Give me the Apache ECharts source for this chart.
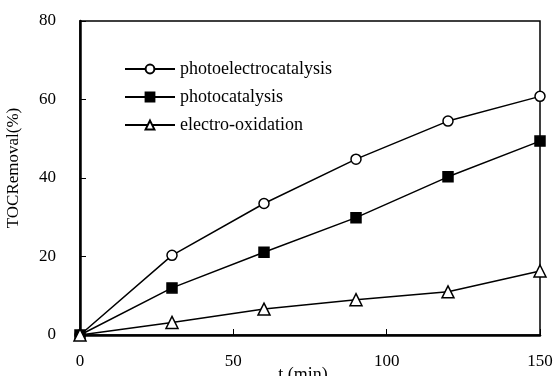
<!DOCTYPE html>
<html>
<head>
<meta charset="utf-8">
<script src="https://cdn.jsdelivr.net/npm/echarts@6/dist/echarts.min.js"></script>
<style>html,body{margin:0;padding:0;background:#fff}#c{width:554px;height:376px}</style>
</head>
<body>
<div id="c"></div>
<script>
var times = [0, 30, 60, 90, 120, 150];
var photoelectrocatalysis = [0, 20.3, 33.5, 44.8, 54.5, 60.8];
var photocatalysis = [0, 12.0, 21.1, 29.9, 40.3, 49.4];
var electroOxidation = [0, 3.2, 6.6, 9.0, 11.0, 16.3];
var seriesNames = ['photoelectrocatalysis', 'photocatalysis', 'electro-oxidation'];
var xTicks = [0, 50, 100, 150];
var yTicks = [0, 20, 40, 60, 80];

function pairs(ys) { return times.map(function (t, i) { return [t, ys[i]]; }); }
var FONT = 'Liberation Serif';
var chart = echarts.init(document.getElementById('c'), null, { renderer: 'canvas' });
function mk(name, ys, symbol, size, fill) {
  return {
    name: name, type: 'line', data: pairs(ys), symbol: symbol, symbolSize: size,
    showAllSymbol: true,
    lineStyle: { color: '#000', width: 1.5 },
    itemStyle: { color: fill, borderColor: '#000', borderWidth: 1.5 },
    emphasis: { disabled: true }, z: 3
  };
}
chart.setOption({
  animation: false,
  backgroundColor: '#fff',
  grid: { left: 80, right: 14, top: 21, bottom: 41, containLabel: false, outerBoundsMode: 'none',
          show: true, borderColor: '#000', borderWidth: 1.5, backgroundColor: 'transparent' },
  legend: {
    data: seriesNames, orient: 'vertical', left: 124, top: 60, itemWidth: 50, itemHeight: 11, itemGap: 10,
    padding: 0,
    textStyle: { fontFamily: FONT, fontSize: 18, color: '#000' }
  },
  xAxis: {
    type: 'value', min: xTicks[0], max: xTicks[xTicks.length - 1], interval: 50,
    name: 't (min)', nameLocation: 'middle', nameGap: 31, nameMoveOverlap: false,
    nameTextStyle: { fontFamily: FONT, fontSize: 18, color: '#000', padding: [0, 14, 0, 0] },
    axisLine: { show: true, onZero: false, lineStyle: { color: '#000', width: 2.5 } },
    axisTick: { show: true, inside: true, length: 6, lineStyle: { color: '#000', width: 1 } },
    axisLabel: { fontFamily: FONT, fontSize: 17, color: '#000', margin: 18 },
    splitLine: { show: false }
  },
  yAxis: {
    type: 'value', min: yTicks[0], max: yTicks[yTicks.length - 1], interval: 20,
    name: 'TOCRemoval(%)', nameLocation: 'middle', nameGap: 58, nameRotate: 90, nameMoveOverlap: false,
    nameTextStyle: { fontFamily: FONT, fontSize: 17, color: '#000', padding: [0, 0, 0, 20] },
    axisLine: { show: true, onZero: false, lineStyle: { color: '#000', width: 2.5 } },
    axisTick: { show: true, inside: true, length: 6, lineStyle: { color: '#000', width: 1 } },
    axisLabel: { fontFamily: FONT, fontSize: 17, color: '#000', margin: 24 },
    splitLine: { show: false }
  },
  series: [
    mk(seriesNames[0], photoelectrocatalysis, 'circle', 10, '#fff'),
    mk(seriesNames[1], photocatalysis, 'rect', 10, '#000'),
    mk(seriesNames[2], electroOxidation, 'triangle', 12, '#fff')
  ]
});
</script>
</body>
</html>
